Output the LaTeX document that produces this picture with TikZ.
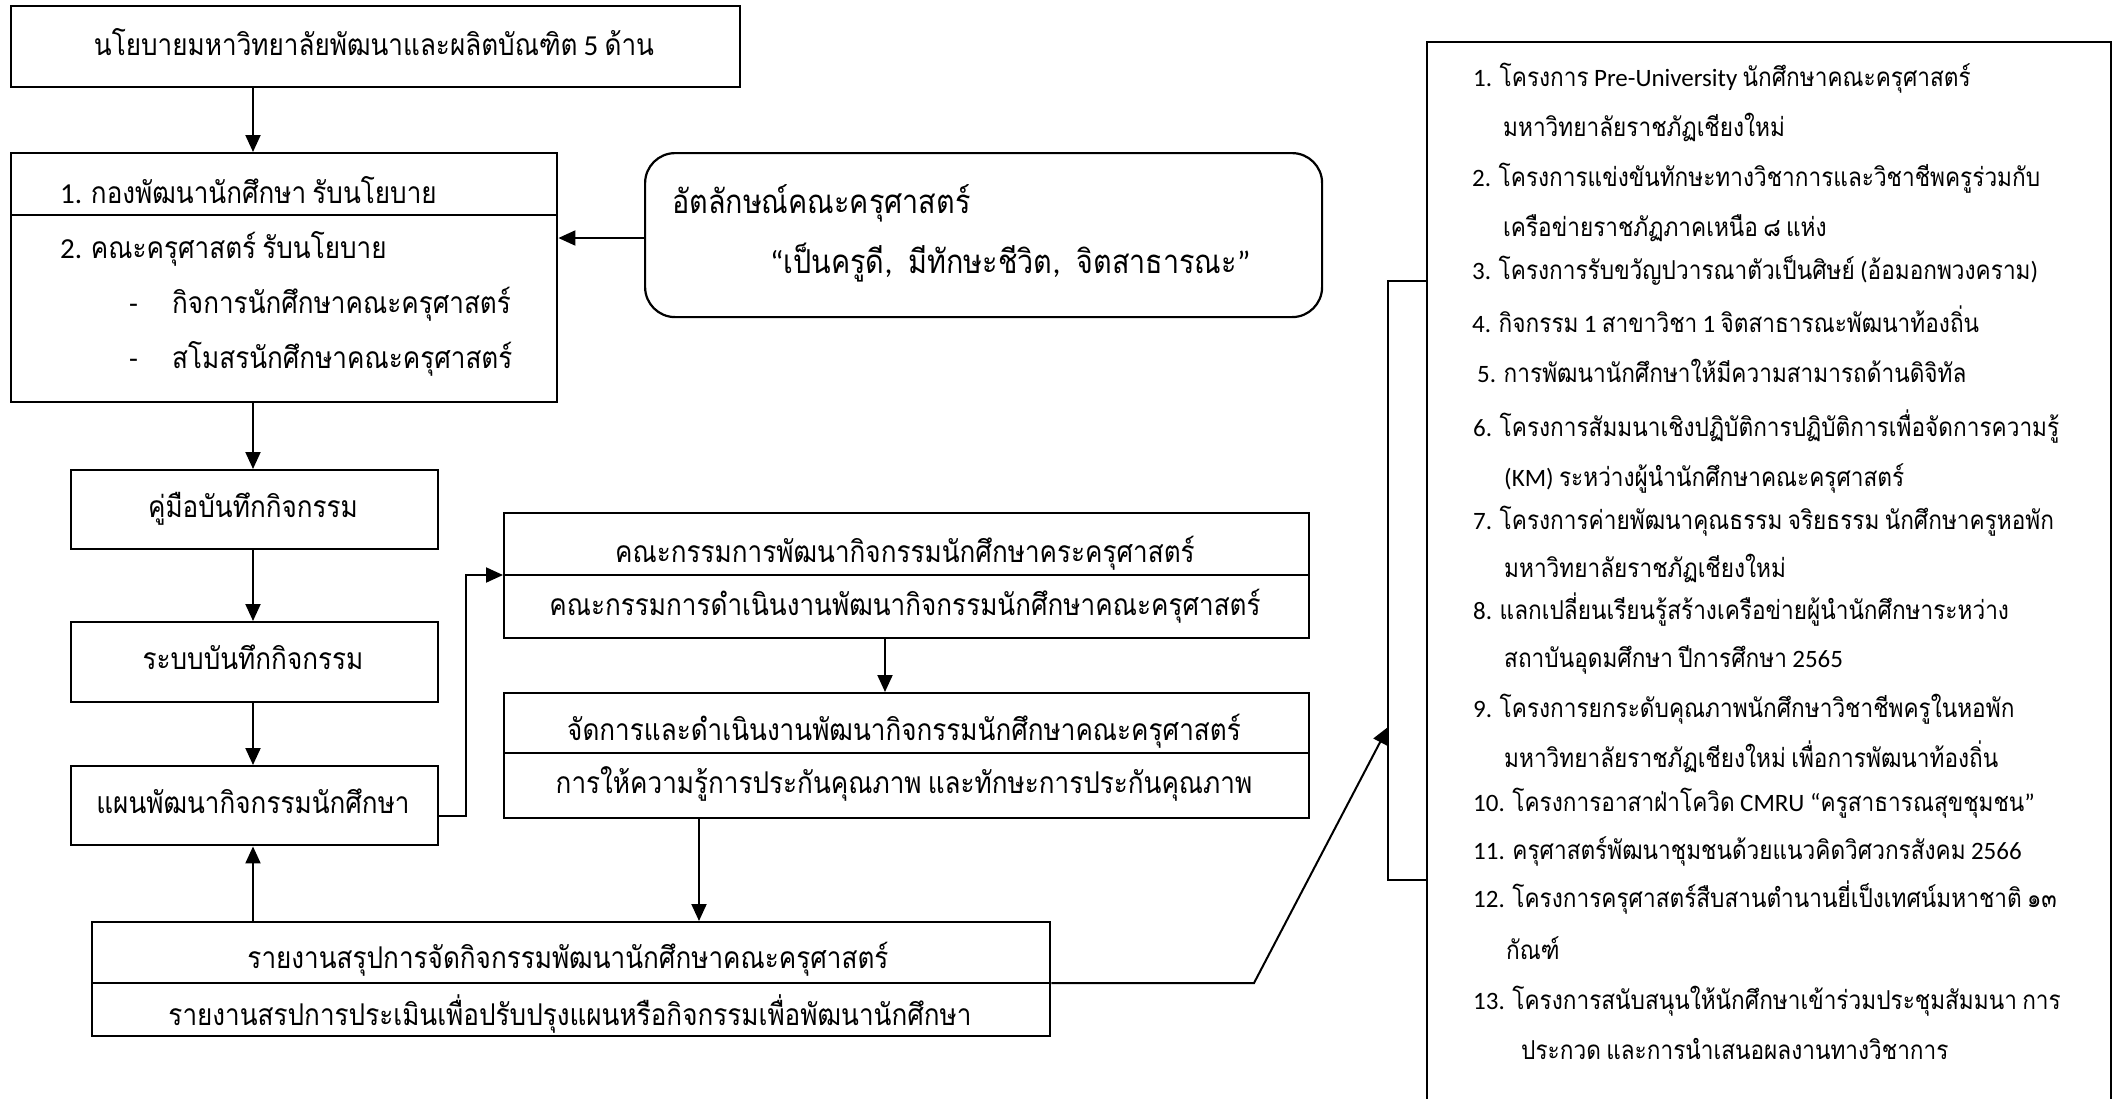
\documentclass[tikz,border=0pt]{standalone}
\usepackage{fontspec}
\usetikzlibrary{arrows.meta}
\newfontfamily\thai[Script=Thai,FakeStretch=0.87,WordSpace=0.7]{Loma}
\newfontfamily\latfam{Carlito}
\newcommand{\tfs}{\fontsize{30}{36}\selectfont\thai}
\newcommand{\ifs}{\fontsize{33}{40}\selectfont\thai}
\newcommand{\rfs}{\fontsize{26}{32}\selectfont\thai}
\newcommand{\lt}[1]{{\fontsize{29}{36}\selectfont\latfam #1}}
\newcommand{\li}[1]{{\fontsize{32}{40}\selectfont\latfam #1}}
\newcommand{\lr}[1]{{\fontsize{25}{32}\selectfont\latfam #1}}
\begin{document}
\begin{tikzpicture}[x=1pt,y=-1pt,
  box/.style={draw,line width=2.4pt,inner sep=0pt,anchor=north west},
  rbox/.style={draw,line width=2.2pt,inner sep=0pt,anchor=north west,rounded corners=30pt},
  arr/.style={line width=2pt,-{Triangle[length=17pt,width=15pt]}},
  ln/.style={line width=2pt},
  tx/.style={inner sep=0pt,font=\tfs,anchor=base west},
  tc/.style={inner sep=0pt,font=\tfs,anchor=base},
  ti/.style={inner sep=0pt,font=\ifs,anchor=base west},
  tr/.style={inner sep=0pt,font=\rfs,anchor=base west}]
\useasboundingbox (0,0) rectangle (2114,1098);
% boxes
\node[box,minimum width=729pt,minimum height=81pt] (top) at (10,5) {};
\node[box,minimum width=546pt,minimum height=249pt] (pol) at (10,152) {};
\node[rbox,minimum width=677pt,minimum height=164pt] (ident) at (644,152) {};
\node[box,minimum width=367pt,minimum height=79pt] (man) at (70,469) {};
\node[box,minimum width=367pt,minimum height=80pt] (sys) at (70,621) {};
\node[box,minimum width=367pt,minimum height=79pt] (plan) at (70,765) {};
\node[box,minimum width=805pt,minimum height=125pt] (com) at (503,512) {};
\node[box,minimum width=805pt,minimum height=125pt] (mgt) at (503,692) {};
\node[box,minimum width=958pt,minimum height=114pt] (rep) at (91,921) {};
% dividers
\draw[line width=2.4pt] (10,215) -- (556,215);
\draw[line width=2.4pt] (503,575) -- (1308,575);
\draw[line width=2.4pt] (503,753) -- (1308,753);
\draw[line width=2.4pt] (91,983) -- (1049,983);
% right list box (open at bottom)
\draw[line width=2.4pt] (1427,1100) -- (1427,42) -- (2111,42) -- (2111,1100);
% texts
\node[tc] (ttop) at (374,55) {นโยบายมหาวิทยาลัยพัฒนาและผลิตบัณฑิต \lt{5} ด้าน};
\node[tx] (tp1) at (60,203) {\lt{1. }กองพัฒนานักศึกษา รับนโยบาย};
\node[tx] (tp2) at (60,258) {\lt{2. }คณะครุศาสตร์ รับนโยบาย};
\node[tx] (tp3a) at (129,313) {\lt{-}};
\node[tx] (tp3) at (172,313) {กิจการนักศึกษาคณะครุศาสตร์};
\node[tx] (tp4a) at (129,368) {\lt{-}};
\node[tx] (tp4) at (172,368) {สโมสรนักศึกษาคณะครุศาสตร์};
\node[ti] (ti1) at (672,213) {อัตลักษณ์คณะครุศาสตร์};
\node[ti] (ti2) at (770,273) {\li{“}เป็นครูดี\li{,\hspace{9pt} }มีทักษะชีวิต\li{,\hspace{9pt} }จิตสาธารณะ\li{”}};
\node[tc] (tman) at (253,517) {คู่มือบันทึกกิจกรรม};
\node[tc] (tsys) at (253,669) {ระบบบันทึกกิจกรรม};
\node[tc] (tplan) at (253,813) {แผนพัฒนากิจกรรมนักศึกษา};
\node[tc] (tc1) at (905,562) {คณะกรรมการพัฒนากิจกรรมนักศึกษาคระครุศาสตร์};
\node[tc] (tc2) at (905,615) {คณะกรรมการดำเนินงานพัฒนากิจกรรมนักศึกษาคณะครุศาสตร์};
\node[tc] (tm1) at (904,740) {จัดการและดำเนินงานพัฒนากิจกรรมนักศึกษาคณะครุศาสตร์};
\node[tc] (tm2) at (904,793) {การให้ความรู้การประกันคุณภาพ และทักษะการประกันคุณภาพ};
\node[tc] (tr1) at (568,968) {รายงานสรุปการจัดกิจกรรมพัฒนานักศึกษาคณะครุศาสตร์};
\node[tc] (tr2) at (570,1025) {รายงานสรปการประเมินเพื่อปรับปรุงแผนหรือกิจกรรมเพื่อพัฒนานักศึกษา};
% list
\node[tr] (l1) at (1473,86) {\lr{1. }โครงการ \lr{Pre-University} นักศึกษาคณะครุศาสตร์};
\node[tr] (l1b) at (1503,136) {มหาวิทยาลัยราชภัฏเชียงใหม่};
\node[tr] (l2) at (1472,186) {\lr{2. }โครงการแข่งขันทักษะทางวิชาการและวิชาชีพครูร่วมกับ};
\node[tr] (l2b) at (1503,236) {เครือข่ายราชภัฏภาคเหนือ ๘ แห่ง};
\node[tr] (l3) at (1472,279) {\lr{3. }โครงการรับขวัญปวารณาตัวเป็นศิษย์ \lr{(}อ้อมอกพวงคราม\lr{)}};
\node[tr] (l4) at (1472,332) {\lr{4. }กิจกรรม \lr{1} สาขาวิชา \lr{1} จิตสาธารณะพัฒนาท้องถิ่น};
\node[tr] (l5) at (1477,382) {\lr{5. }การพัฒนานักศึกษาให้มีความสามารถด้านดิจิทัล};
\node[tr] (l6) at (1473,436) {\lr{6. }โครงการสัมมนาเชิงปฏิบัติการปฏิบัติการเพื่อจัดการความรู้};
\node[tr] (l6b) at (1504,486) {\lr{(KM)} ระหว่างผู้นำนักศึกษาคณะครุศาสตร์};
\node[tr] (l7) at (1473,529) {\lr{7. }โครงการค่ายพัฒนาคุณธรรม จริยธรรม นักศึกษาครูหอพัก};
\node[tr] (l7b) at (1504,577) {มหาวิทยาลัยราชภัฏเชียงใหม่};
\node[tr] (l8) at (1473,619) {\lr{8. }แลกเปลี่ยนเรียนรู้สร้างเครือข่ายผู้นำนักศึกษาระหว่าง};
\node[tr] (l8b) at (1504,667) {สถาบันอุดมศึกษา ปีการศึกษา \lr{2565}};
\node[tr] (l9) at (1473,717) {\lr{9. }โครงการยกระดับคุณภาพนักศึกษาวิชาชีพครูในหอพัก};
\node[tr] (l9b) at (1504,767) {มหาวิทยาลัยราชภัฏเชียงใหม่ เพื่อการพัฒนาท้องถิ่น};
\node[tr] (l10) at (1473,811) {\lr{10. }โครงการอาสาฝ่าโควิด \lr{CMRU “}ครูสาธารณสุขชุมชน\lr{”}};
\node[tr] (l11) at (1473,859) {\lr{11. }ครุศาสตร์พัฒนาชุมชนด้วยแนวคิดวิศวกรสังคม \lr{2566}};
\node[tr] (l12) at (1473,907) {\lr{12. }โครงการครุศาสตร์สืบสานตำนานยี่เป็งเทศน์มหาชาติ ๑๓};
\node[tr] (l12b) at (1506,959) {กัณฑ์};
\node[tr] (l13) at (1473,1009) {\lr{13. }โครงการสนับสนุนให้นักศึกษาเข้าร่วมประชุมสัมมนา การ};
\node[tr] (l13b) at (1521,1059) {ประกวด และการนำเสนอผลงานทางวิชาการ};
% helper coordinates
\coordinate (cL) at (253,0);
\coordinate (cM) at (885,0);
\coordinate (cR) at (699,0);
\coordinate (yPI) at (0,238);
\coordinate (yPL) at (0,816);
\coordinate (yCM) at (0,575);
\coordinate (jx) at (466,0);
\coordinate (yRP) at (0,983);
\coordinate (knee) at (1254,983);
\coordinate (brT) at (1388,281);
\coordinate (brB) at (1388,880);
\coordinate (brTip) at (1388,727);
% connectors
\draw[arr] (top.south -| cL) -- (pol.north -| cL);
\draw[arr] (ident.west |- yPI) -- (pol.east |- yPI);
\draw[arr] (pol.south -| cL) -- (man.north -| cL);
\draw[arr] (man.south -| cL) -- (sys.north -| cL);
\draw[arr] (sys.south -| cL) -- (plan.north -| cL);
\draw[arr] (rep.north -| cL) -- (plan.south -| cL);
\draw[arr] (plan.east |- yPL) -- (jx |- yPL) -- (jx |- yCM) -- (com.west |- yCM);
\draw[arr] (com.south -| cM) -- (mgt.north -| cM);
\draw[arr] (mgt.south -| cR) -- (rep.north -| cR);
\draw[arr] (rep.east |- yRP) -- (knee) -- (brTip);
\draw[ln] (1427,281) -- (brT) -- (brB) -- (1427,880);
\end{tikzpicture}
\end{document}
